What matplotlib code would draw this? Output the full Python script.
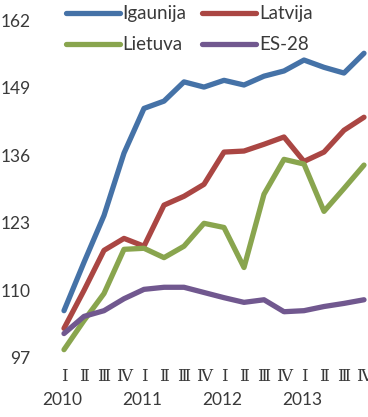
import numpy as np
import matplotlib
matplotlib.use("Agg")
import matplotlib.pyplot as plt
from matplotlib.transforms import blended_transform_factory

# quarterly index values, 2010 Q1 .. 2013 Q4
quarters = ["Ⅰ", "Ⅱ", "Ⅲ", "Ⅳ"] * 4
years = ["2010", "2011", "2012", "2013"]
igaunija = [106.1, 115.4, 124.4, 136.4, 145.0, 146.4, 150.1, 149.1,
            150.4, 149.5, 151.2, 152.2, 154.3, 152.9, 151.8, 155.6]
latvija = [102.7, 110.0, 117.7, 120.0, 118.5, 126.4, 128.1, 130.4,
           136.6, 136.8, 138.1, 139.5, 134.8, 136.6, 140.8, 143.3]
lietuva = [98.6, 104.2, 109.4, 117.9, 118.1, 116.3, 118.5, 122.9,
           122.1, 114.4, 128.5, 135.2, 134.3, 125.2, 129.6, 134.1]
es28 = [101.7, 105.0, 106.1, 108.4, 110.2, 110.6, 110.6, 109.6,
        108.6, 107.7, 108.2, 105.9, 106.1, 106.9, 107.5, 108.2]
yticks = [97, 110, 123, 136, 149, 162]

series = [("Igaunija", igaunija, "#4572A7"),
          ("Latvija", latvija, "#AA4643"),
          ("Lietuva", lietuva, "#89A54E"),
          ("ES-28", es28, "#71588F")]

txt = "#3a3a3a"
plt.rcParams["font.family"] = ["Lato", "DejaVu Sans"]

W, H = 368, 417
fig = plt.figure(figsize=(W / 100, H / 100), dpi=100)
ax = fig.add_axes([50 / W, (H - 358) / H, 318 / W, 338 / H])

x = np.arange(len(quarters))
handles = {}
for name, vals, col in series:
    ln, = ax.plot(x, vals, color=col, lw=3.8, solid_capstyle="round",
                  solid_joinstyle="round", clip_on=False, label=name)
    handles[name] = ln

ax.set_xlim(-0.7, 15.2)
ax.set_ylim(97, 162)
ax.set_yticks(yticks)
ax.set_yticklabels([str(v) for v in yticks], fontsize=12.5, color=txt)
ax.set_xticks(x)
ax.set_xticklabels(quarters, fontsize=12, color=txt,
                   family=["DejaVu Serif", "DejaVu Sans"])
ax.tick_params(length=0, axis="y", pad=14)
ax.tick_params(length=0, axis="x", pad=7)
for s in ax.spines.values():
    s.set_visible(False)

# year labels under the first quarter of each year
tr = blended_transform_factory(ax.transData, fig.transFigure)
for i, yr in enumerate(years):
    ax.text(i * 4 - 0.1, (H - 400) / H, yr, transform=tr, ha="center",
            va="center", fontsize=12.5, color=txt)

# legend filled column by column: two rows, two columns
order = ["Igaunija", "Lietuva", "Latvija", "ES-28"]
fig.legend(handles=[handles[n] for n in order], ncol=2, frameon=False,
           fontsize=13.5, labelcolor=txt, loc="upper left",
           bbox_to_anchor=(58 / W, 1.005), handlelength=2.9,
           handletextpad=0.15, columnspacing=0.8, labelspacing=0.75,
           borderaxespad=0)

fig.savefig("out.png", dpi=100)
